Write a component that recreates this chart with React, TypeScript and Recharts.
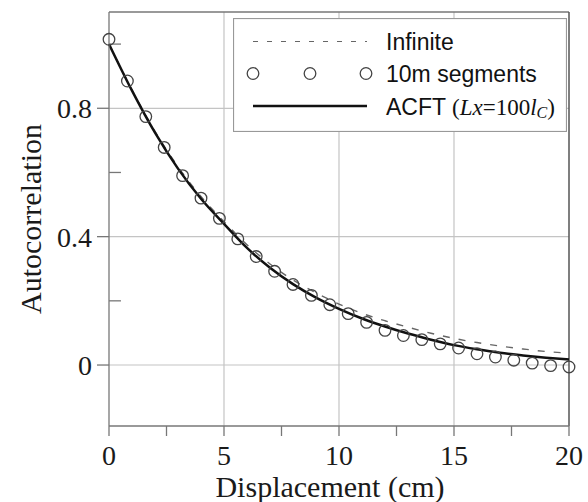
import {
    ComposedChart,
    Line,
    Scatter,
    XAxis,
    YAxis,
    CartesianGrid,
    ReferenceLine,
    Legend,
} from "recharts";

// displacement (cm) for the curves
const curveX = [0, 1, 2, 3, 4, 5, 6, 7, 8, 9, 10, 11, 12, 13, 14, 15, 16, 17, 18, 19, 20];
const infinite = [
    1.0, 0.857, 0.728, 0.618, 0.525, 0.447, 0.375, 0.315, 0.265, 0.225, 0.19,
    0.161, 0.138, 0.118, 0.099, 0.083, 0.07, 0.059, 0.05, 0.042, 0.037,
];
const acft = [
    1.0, 0.855, 0.724, 0.612, 0.518, 0.44, 0.365, 0.303, 0.252, 0.21, 0.175,
    0.145, 0.12, 0.098, 0.079, 0.062, 0.049, 0.038, 0.03, 0.023, 0.017,
];

// 10m segments, sampled every 0.8 cm
const segmentX = [
    0, 0.8, 1.6, 2.4, 3.2, 4.0, 4.8, 5.6, 6.4, 7.2, 8.0, 8.8, 9.6, 10.4, 11.2,
    12.0, 12.8, 13.6, 14.4, 15.2, 16.0, 16.8, 17.6, 18.4, 19.2, 20.0,
];
const segments = [
    1.015, 0.885, 0.774, 0.678, 0.59, 0.52, 0.457, 0.393, 0.338, 0.292, 0.251,
    0.217, 0.188, 0.16, 0.133, 0.108, 0.092, 0.079, 0.066, 0.053, 0.035, 0.025,
    0.015, 0.006, -0.002, -0.006,
];

const xTicks = [0, 2.5, 5, 7.5, 10, 12.5, 15, 17.5, 20];
const yTicks = [0, 0.4, 0.8];
const yMinorTicks = [0.2, 0.6, 1.0];
const gridX = [5, 10, 15];

const infiniteData = curveX.map((x, i) => ({ x, y: infinite[i] }));
const acftData = curveX.map((x, i) => ({ x, y: acft[i] }));
const segmentData = segmentX.map((x, i) => ({ x, y: segments[i] }));

const SERIF = "'Liberation Serif', 'Times New Roman', serif";
const SANS = "'Liberation Sans', Arial, sans-serif";

const OpenCircle = (props: any) => (
    <circle cx={props.cx} cy={props.cy} r={5.8} fill="none" stroke="#444" strokeWidth={1.3} />
);

const LegendBox = () => (
    <svg width={334} height={114} style={{ display: "block" }}>
        <rect x={0.5} y={0.5} width={333} height={113} fill="#fff" stroke="#999" strokeWidth={1.2} />
        <line x1={20} x2={134} y1={23.5} y2={23.5} stroke="#666" strokeWidth={1.2} strokeDasharray="5 9" />
        <text x={153} y={32} fontFamily={SANS} fontSize={23} fill="#111">Infinite</text>
        {[20, 77, 133].map((cx) => (
            <circle key={cx} cx={cx} cy={55.5} r={5.8} fill="none" stroke="#444" strokeWidth={1.3} />
        ))}
        <text x={153} y={64} fontFamily={SANS} fontSize={23} fill="#111">10m segments</text>
        <line x1={20} x2={134} y1={88} y2={88} stroke="#111" strokeWidth={2.5} />
        <text x={153} y={96.5} fontSize={23} fill="#111">
            <tspan fontFamily={SANS}>ACFT </tspan>
            <tspan fontFamily={SERIF}>(</tspan>
            <tspan fontFamily={SERIF} fontStyle="italic">Lx</tspan>
            <tspan fontFamily={SERIF}>=100</tspan>
            <tspan fontFamily={SERIF} fontStyle="italic">l</tspan>
            <tspan fontFamily={SERIF} fontStyle="italic" fontSize={16} dy={3}>C</tspan>
            <tspan fontFamily={SERIF} dy={-3}>)</tspan>
        </text>
    </svg>
);

export default function App() {
    return (
        <div style={{ width: 588, height: 502, background: "#fff" }}>
            <style>{`body{margin:0}`}</style>
            <ComposedChart
                width={588}
                height={502}
                margin={{ top: 12, right: 19, left: 0, bottom: 0 }}
            >
                <CartesianGrid
                    stroke="#c4c4c4"
                    strokeWidth={1.2}
                    verticalValues={gridX}
                    horizontalValues={yTicks}
                />
                <XAxis
                    dataKey="x"
                    type="number"
                    domain={[0, 20]}
                    ticks={xTicks}
                    allowDuplicatedCategory={false}
                    height={76}
                    tickSize={10}
                    tickMargin={9}
                    tickFormatter={(v: number) => (v % 5 === 0 ? String(v) : "")}
                    tick={{ fill: "#1a1a1a", fontSize: 28, fontFamily: SERIF }}
                    stroke="#777"
                    axisLine={{ stroke: "#777", strokeWidth: 1.3 }}
                    tickLine={{ stroke: "#777", strokeWidth: 1.3 }}
                    label={{
                        value: "Displacement (cm)",
                        position: "insideBottom",
                        offset: 5,
                        dx: -9,
                        style: { fill: "#1a1a1a", fontSize: 30, fontFamily: SERIF },
                    }}
                />
                <YAxis
                    dataKey="y"
                    type="number"
                    domain={[-0.19, 1.1]}
                    ticks={yTicks}
                    width={109}
                    tickSize={12}
                    tickMargin={5}
                    tick={{ fill: "#1a1a1a", fontSize: 28, fontFamily: SERIF }}
                    axisLine={{ stroke: "#777", strokeWidth: 1.3 }}
                    tickLine={{ stroke: "#777", strokeWidth: 1.3 }}
                    label={{
                        value: "Autocorrelation",
                        angle: -90,
                        position: "insideLeft",
                        offset: 30,
                        style: { textAnchor: "middle", fill: "#1a1a1a", fontSize: 30, fontFamily: SERIF },
                    }}
                />
                {/* short inward minor ticks on the y axis */}
                {yMinorTicks.map((v) => (
                    <ReferenceLine
                        key={v}
                        segment={[{ x: 0, y: v }, { x: 0.52, y: v }]}
                        stroke="#777"
                        strokeWidth={1.3}
                    />
                ))}
                <ReferenceLine y={1.1} stroke="#777" strokeWidth={1.3} />
                <ReferenceLine x={20} stroke="#555" strokeWidth={1.5} />
                <Legend
                    layout="horizontal"
                    verticalAlign="middle"
                    align="center"
                    wrapperStyle={{ left: 233, top: 18, width: 334, height: 114 }}
                    content={() => <LegendBox />}
                />
                <Scatter
                    name="10m segments"
                    data={segmentData}
                    shape={OpenCircle}
                    isAnimationActive={false}
                />
                <Line
                    name="Infinite"
                    data={infiniteData}
                    dataKey="y"
                    type="monotone"
                    stroke="#666"
                    strokeWidth={1.4}
                    strokeDasharray="7 9"
                    dot={false}
                    activeDot={false}
                    isAnimationActive={false}
                />
                <Line
                    name="ACFT"
                    data={acftData}
                    dataKey="y"
                    type="monotone"
                    stroke="#111"
                    strokeWidth={2.5}
                    dot={false}
                    activeDot={false}
                    isAnimationActive={false}
                />
            </ComposedChart>
        </div>
    );
}
